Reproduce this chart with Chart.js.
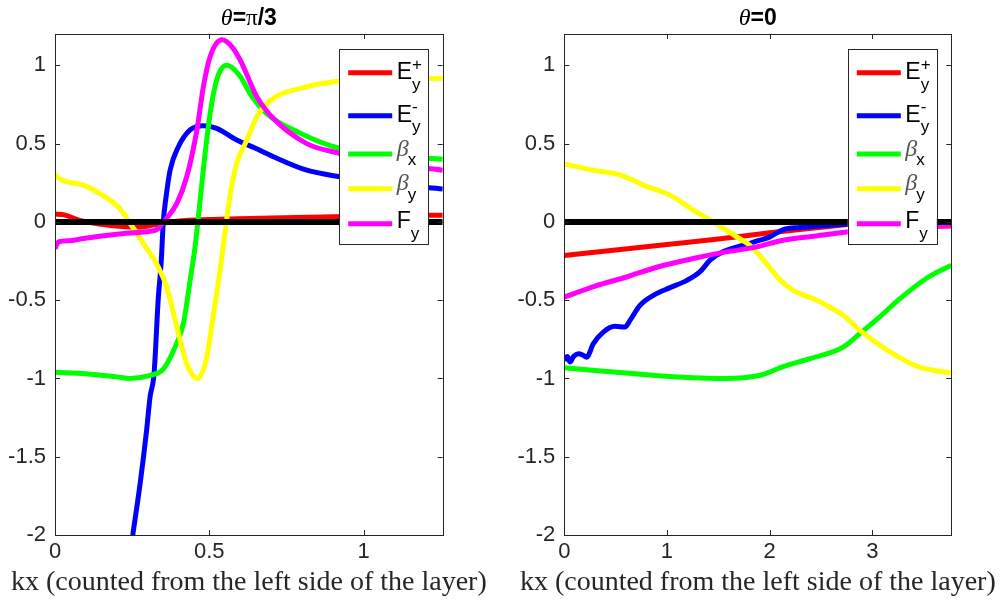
<!DOCTYPE html>
<html><head><meta charset="utf-8">
<script src="https://cdn.jsdelivr.net/npm/chart.js@4.4.0/dist/chart.umd.min.js"></script>
<style>
html,body{margin:0;padding:0;background:#fff;}
#wrap{position:relative;width:1008px;height:600px;background:#fff;}
.c{position:absolute;top:0;width:504px;height:600px;}
</style></head><body>
<div id="wrap">
<div class="c" style="left:0"><canvas id="c1" width="504" height="600"></canvas></div>
<div class="c" style="left:504px"><canvas id="c2" width="504" height="600"></canvas></div>
</div>
<script>
// ---------- data: left panel (theta = pi/3) ----------
const L_EyPlus_x  = [0, 0.03, 0.08, 0.15, 0.22, 0.28, 0.33, 0.4, 0.5, 0.7, 0.9, 1.1, 1.257];
const L_EyPlus_y  = [0.05, 0.045, 0.01, -0.015, -0.03, -0.033, -0.015, 0.005, 0.015, 0.025, 0.032, 0.038, 0.043];
const L_EyMinus_x = [0.252, 0.276, 0.297, 0.308, 0.321, 0.335, 0.344, 0.351, 0.36, 0.373, 0.40, 0.438, 0.481, 0.524, 0.589, 0.65, 0.708, 0.816, 0.924, 1.0, 1.1, 1.257];
const L_EyMinus_y = [-2, -1.67, -1.33, -1.12, -0.97, -0.48, -0.265, 0, 0.16, 0.33, 0.48, 0.587, 0.614, 0.597, 0.523, 0.47, 0.416, 0.33, 0.288, 0.265, 0.24, 0.21];
const L_BetaX_x   = [0, 0.1, 0.2, 0.243, 0.308, 0.351, 0.389, 0.416, 0.438, 0.454, 0.463, 0.483, 0.503, 0.524, 0.557, 0.6, 0.632, 0.687, 0.795, 0.903, 1.0, 1.1, 1.257];
const L_BetaX_y   = [-0.96, -0.97, -0.99, -1.0, -0.98, -0.94, -0.8, -0.65, -0.373, -0.16, 0, 0.374, 0.694, 0.907, 1.0, 0.93, 0.82, 0.69, 0.566, 0.48, 0.44, 0.42, 0.40];
const L_BetaY_x   = [0, 0.01, 0.092, 0.146, 0.2, 0.222, 0.243, 0.265, 0.287, 0.33, 0.362, 0.395, 0.427, 0.463, 0.492, 0.514, 0.535, 0.552, 0.57, 0.589, 0.622, 0.654, 0.708, 0.795, 0.924, 1.05, 1.257];
const L_BetaY_y   = [0.305, 0.28, 0.235, 0.18, 0.105, 0.055, -0.01, -0.07, -0.14, -0.27, -0.416, -0.672, -0.906, -1.0, -0.864, -0.586, -0.31, -0.05, 0.2, 0.374, 0.523, 0.672, 0.79, 0.853, 0.9, 0.91, 0.917];
const L_Fy_x      = [0, 0.011, 0.05, 0.092, 0.2, 0.287, 0.33, 0.357, 0.395, 0.427, 0.46, 0.481, 0.503, 0.541, 0.573, 0.6, 0.654, 0.708, 0.816, 0.924, 1.05, 1.257];
const L_Fy_y      = [-0.17, -0.128, -0.12, -0.106, -0.079, -0.064, -0.049, 0.011, 0.118, 0.288, 0.587, 0.864, 1.056, 1.163, 1.12, 1.035, 0.80, 0.66, 0.50, 0.437, 0.38, 0.33];

// ---------- data: right panel (theta = 0) ----------
const R_EyPlus_x  = [0, 0.5, 1, 1.5, 2, 2.5, 3, 3.77];
const R_EyPlus_y  = [-0.215, -0.18, -0.145, -0.11, -0.07, -0.035, -0.005, 0.0];
const R_EyMinus_x = [0, 0.03, 0.055, 0.09, 0.136, 0.18, 0.218, 0.283, 0.38, 0.494, 0.591, 0.64, 0.737, 0.867, 1.03, 1.19, 1.32, 1.42, 1.55, 1.743, 1.906, 2.003, 2.133, 2.295, 2.75, 3.2, 3.77];
const R_EyMinus_y = [-0.885, -0.86, -0.895, -0.86, -0.842, -0.85, -0.864, -0.778, -0.704, -0.667, -0.672, -0.629, -0.533, -0.469, -0.42, -0.375, -0.32, -0.245, -0.19, -0.149, -0.117, -0.096, -0.049, -0.036, -0.015, -0.005, -0.002];
const R_BetaX_x   = [0, 0.3, 0.607, 0.95, 1.256, 1.516, 1.75, 1.906, 2.0, 2.1, 2.392, 2.717, 2.879, 3.05, 3.27, 3.53, 3.77];
const R_BetaX_y   = [-0.932, -0.95, -0.966, -0.985, -0.996, -1.0, -0.995, -0.98, -0.96, -0.932, -0.874, -0.8, -0.714, -0.62, -0.49, -0.36, -0.277];
const R_BetaY_x   = [0, 0.283, 0.542, 0.77, 1.03, 1.256, 1.45, 1.68, 1.808, 1.97, 2.1, 2.23, 2.458, 2.555, 2.717, 2.879, 3.2, 3.46, 3.77];
const R_BetaY_y   = [0.37, 0.33, 0.30, 0.235, 0.171, 0.075, 0, -0.096, -0.15, -0.266, -0.37, -0.437, -0.5, -0.533, -0.597, -0.693, -0.842, -0.928, -0.965];
const R_Fy_x      = [0, 0.3, 0.607, 0.9, 1.256, 1.55, 1.873, 2.133, 2.45, 2.75, 3.1, 3.77];
const R_Fy_y      = [-0.48, -0.41, -0.352, -0.29, -0.234, -0.195, -0.16, -0.117, -0.09, -0.064, -0.045, -0.027];

// axes limits & ticks
const L_xMax = 0.4 * Math.PI, R_xMax = 1.2 * Math.PI;
const L_xStep = 0.5, R_xStep = 1;
const yMin = -2, yMax = 1.2, yStep = 0.5;

const seriesColors = ['#ff0000', '#0000ff', '#00ff00', '#ffff00', '#ff00ff'];
const legendEntries = [
  {main:'E', sup:'+', sub:'y', greek:false},
  {main:'E', sup:'-', sub:'y', greek:false},
  {main:'\u03B2', sup:'', sub:'x', greek:true},
  {main:'\u03B2', sup:'', sub:'y', greek:true},
  {main:'F', sup:'', sub:'y', greek:false}
];
const xLabelText = 'kx (counted from the left side of the layer)';

const AX = '#262626';
function pts(xs, ys){ return xs.map((x,i)=>({x:x, y:ys[i]})); }
function fmt(v){ return String(Math.round(v*100)/100); }

// legend geometry (offsets from legend box top), measured
const legLineY   = [23.7, 66.7, 105, 139.7, 174.7];
const legMainOff = [6.6, 6.0, 1.5, 1.5, 4.6];
const legSupOff  = [-2.9, -4.1, 0, 0, 0];
const legSubOff  = [16.8, 16.4, 10.8, 10.8, 15.1];

function makeDecor(titleParts){
  return {
    id:'decor',
    afterDraw(chart){
      const ctx = chart.ctx, a = chart.chartArea;
      const xs = chart.scales.x, ys = chart.scales.y;
      ctx.save();
      ctx.strokeStyle = AX; ctx.lineWidth = 1;
      ctx.strokeRect(Math.round(a.left)+0.5, Math.round(a.top)+0.5, Math.round(a.right-a.left), Math.round(a.bottom-a.top));
      const tl = 5;
      ctx.beginPath();
      xs.ticks.forEach(t=>{
        const p = Math.round(xs.getPixelForValue(t.value))+0.5;
        ctx.moveTo(p, a.bottom); ctx.lineTo(p, a.bottom - tl);
        ctx.moveTo(p, a.top); ctx.lineTo(p, a.top + tl);
      });
      ys.ticks.forEach(t=>{
        const p = Math.round(ys.getPixelForValue(t.value))+0.5;
        ctx.moveTo(a.left, p); ctx.lineTo(a.left + tl, p);
        ctx.moveTo(a.right, p); ctx.lineTo(a.right - tl, p);
      });
      ctx.stroke();
      // title
      const cx = (a.left + a.right)/2;
      let total = 0;
      titleParts.forEach(tp=>{ ctx.font = tp.font; tp.w = ctx.measureText(tp.t).width; total += tp.w; });
      let x = cx - total/2;
      ctx.fillStyle = '#000'; ctx.textBaseline = 'alphabetic'; ctx.textAlign = 'left';
      titleParts.forEach(tp=>{ ctx.font = tp.font; ctx.fillText(tp.t, x, 25); x += tp.w; });
      // x label
      ctx.font = '28px "Liberation Serif"';
      ctx.textAlign = 'center'; ctx.fillStyle = AX;
      ctx.fillText(xLabelText, cx, 590);
      // legend
      const bR = a.right - 14.5, bL = bR - 89, bT = a.top + 15, bH = 195;
      ctx.fillStyle = '#fff';
      ctx.fillRect(bL, bT, 89, bH);
      ctx.strokeStyle = AX; ctx.lineWidth = 1;
      ctx.strokeRect(Math.round(bL)+0.5, Math.round(bT)+0.5, 89, bH);
      legendEntries.forEach((e,i)=>{
        const ly = bT + legLineY[i];
        ctx.strokeStyle = seriesColors[i]; ctx.lineWidth = 5; ctx.lineCap = 'butt';
        ctx.beginPath(); ctx.moveTo(bL+9, ly); ctx.lineTo(bL+53, ly); ctx.stroke();
        const tx = bL + 57.5;
        ctx.textAlign = 'left';
        if (e.greek){ ctx.font = 'italic 24px "Liberation Serif"'; ctx.fillStyle = '#555'; }
        else { ctx.font = '23px "Liberation Sans"'; ctx.fillStyle = '#000'; }
        ctx.fillText(e.main, tx, ly + legMainOff[i]);
        const mw = ctx.measureText(e.main).width;
        ctx.font = '17px "Liberation Sans"'; ctx.fillStyle = '#000';
        if (e.sup) ctx.fillText(e.sup, tx + mw, ly + legSupOff[i]);
        ctx.fillText(e.sub, tx + mw - (e.greek ? 1 : 0), ly + legSubOff[i]);
      });
      ctx.restore();
    }
  };
}

function makeChart(id, xMax, xStep, yAxisW, padRight, series, titleParts){
  const labels = ['Ey+', 'Ey-', 'beta_x', 'beta_y', 'Fy'];
  const datasets = series.map((s,i)=>({
    label: labels[i], data: pts(s[0], s[1]), borderColor: seriesColors[i],
    borderWidth: 5, pointRadius: 0, cubicInterpolationMode: 'monotone', fill: false, clip: 0,
    borderJoinStyle: 'round', order: 6 - i
  }));
  datasets.push({label:'zero', data: pts([0, xMax], [0, 0]), borderColor:'#000', borderWidth:6,
    pointRadius:0, fill:false, clip:0, order: 0});
  const tickFont = {family:'Liberation Sans', size:22};
  return new Chart(document.getElementById(id), {
    type:'line',
    data:{datasets},
    options:{
      responsive:false, animation:false, events:[],
      layout:{padding:{left:0, right:padRight, top:34, bottom:0}},
      plugins:{legend:{display:false}, tooltip:{enabled:false}, title:{display:false}},
      scales:{
        x:{type:'linear', min:0, max:xMax,
          grid:{display:false, drawTicks:false}, border:{display:false},
          ticks:{stepSize:xStep, includeBounds:false, font:tickFont, color:AX, padding:4, maxRotation:0, autoSkip:false, callback:fmt},
          afterFit:(s)=>{ s.height = 65; }},
        y:{type:'linear', min:yMin, max:yMax,
          grid:{display:false, drawTicks:false}, border:{display:false},
          ticks:{stepSize:yStep, includeBounds:false, font:tickFont, color:AX, padding:9, autoSkip:false, callback:fmt},
          afterFit:(s)=>{ s.width = yAxisW; }}
      }
    },
    plugins:[makeDecor(titleParts)]
  });
}

const titleLeft = [
  {t:'\u03B8', font:'italic 24px "Liberation Serif"'},
  {t:'=', font:'bold 23px "Liberation Sans"'},
  {t:'\u03C0', font:'23px "Liberation Serif"'},
  {t:'/3', font:'bold 23px "Liberation Sans"'}
];
const titleRight = [
  {t:'\u03B8', font:'italic 24px "Liberation Serif"'},
  {t:'=0', font:'bold 23px "Liberation Sans"'}
];

makeChart('c1', L_xMax, L_xStep, 55, 61.3, [
  [L_EyPlus_x, L_EyPlus_y], [L_EyMinus_x, L_EyMinus_y], [L_BetaX_x, L_BetaX_y], [L_BetaY_x, L_BetaY_y], [L_Fy_x, L_Fy_y]
], titleLeft);
makeChart('c2', R_xMax, R_xStep, 60.3, 56.7, [
  [R_EyPlus_x, R_EyPlus_y], [R_EyMinus_x, R_EyMinus_y], [R_BetaX_x, R_BetaX_y], [R_BetaY_x, R_BetaY_y], [R_Fy_x, R_Fy_y]
], titleRight);
</script>
</body></html>
